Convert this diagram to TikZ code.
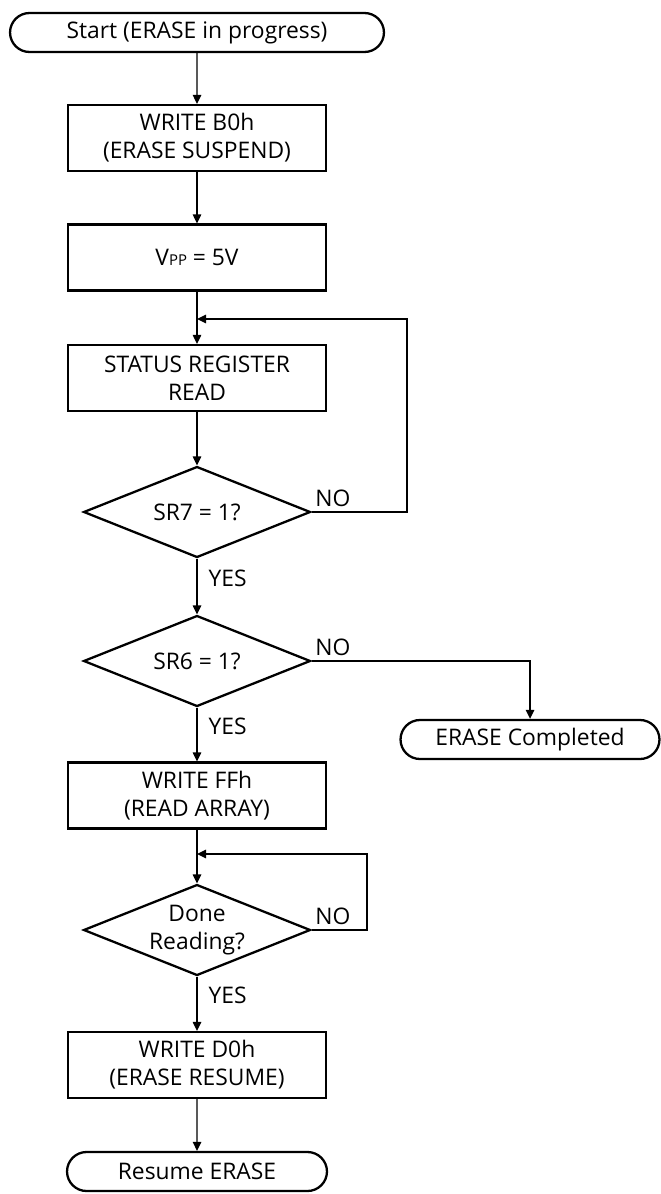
\documentclass[tikz,border=0pt]{standalone}
\usepackage{fontspec}
\setmainfont{Open Sans}
\usetikzlibrary{shapes.geometric,shapes.misc,arrows.meta}

\begin{document}
\begin{tikzpicture}[x=0.02cm, y=-0.02cm,
        font=\fontsize{13}{16}\selectfont,
        box/.style={draw, line width=1.3pt, minimum width=5.16cm, minimum height=1.32cm, align=center, inner sep=0pt},
        term/.style={draw, line width=1.3pt, rounded rectangle, minimum height=0.78cm, inner sep=0pt},
        test/.style={draw, line width=1.3pt, diamond, aspect=2.5, minimum width=4.54cm, minimum height=1.82cm, align=center, inner sep=0pt},
        flow/.style={line width=0.75pt, -{Triangle[length=1.8mm, width=1.7mm]}},
        yes/.style={pos=0.35, anchor=west, inner sep=0pt, xshift=0.22cm},
        no/.style={anchor=south west, inner sep=0pt, xshift=0.06cm, yshift=0.1cm}]
        \useasboundingbox (0,0) rectangle (661,1194);
        \node[term, minimum width=7.48cm] (start) at (197,32.5) {Start (ERASE in progress)};
        \node[box] (b0h) at (197,138) {WRITE B0h\\(ERASE SUSPEND)};
        \node[box] (vpp) at (197,257.5) {V{\fontsize{8.5}{10}\selectfont PP} = 5V};
        \node[box] (srr) at (197,378) {STATUS REGISTER\\READ};
        \node[test] (sr7) at (197,512) {SR7 = 1?};
        \node[test] (sr6) at (197,661) {SR6 = 1?};
        \node[term, minimum width=5.18cm] (done) at (530,739.5) {ERASE Completed};
        \node[box] (ffh) at (197,795.5) {WRITE FFh\\(READ ARRAY)};
        \node[test] (rd) at (197,930) {Done\\Reading?};
        \node[box] (d0h) at (197,1065) {WRITE D0h\\(ERASE RESUME)};
        \node[term, minimum width=5.2cm] (resume) at (197,1171.5) {Resume ERASE};
        \coordinate (j1) at (197,319);
        \coordinate (r1) at (407,319);
        \coordinate (j2) at (197,854);
        \coordinate (r2) at (367,854);

        \draw[flow] (start) -- (b0h);
        \draw[flow] (b0h) -- (vpp);
        \draw[flow] (vpp) -- (srr);
        \draw[flow] (srr) -- (sr7);
        \draw[flow] (sr7.east) node[no]{NO} -| (r1) -- (j1);
        \draw[flow] (sr7) -- node[yes]{YES} (sr6);
        \draw[flow] (sr6.east) node[no]{NO} -| (done);
        \draw[flow] (sr6) -- node[yes]{YES} (ffh);
        \draw[flow] (ffh) -- (rd);
        \draw[flow] (rd.east) node[no]{NO} -| (r2) -- (j2);
        \draw[flow] (rd) -- node[yes]{YES} (d0h);
        \draw[flow] (d0h) -- (resume);
\end{tikzpicture}
\end{document}
